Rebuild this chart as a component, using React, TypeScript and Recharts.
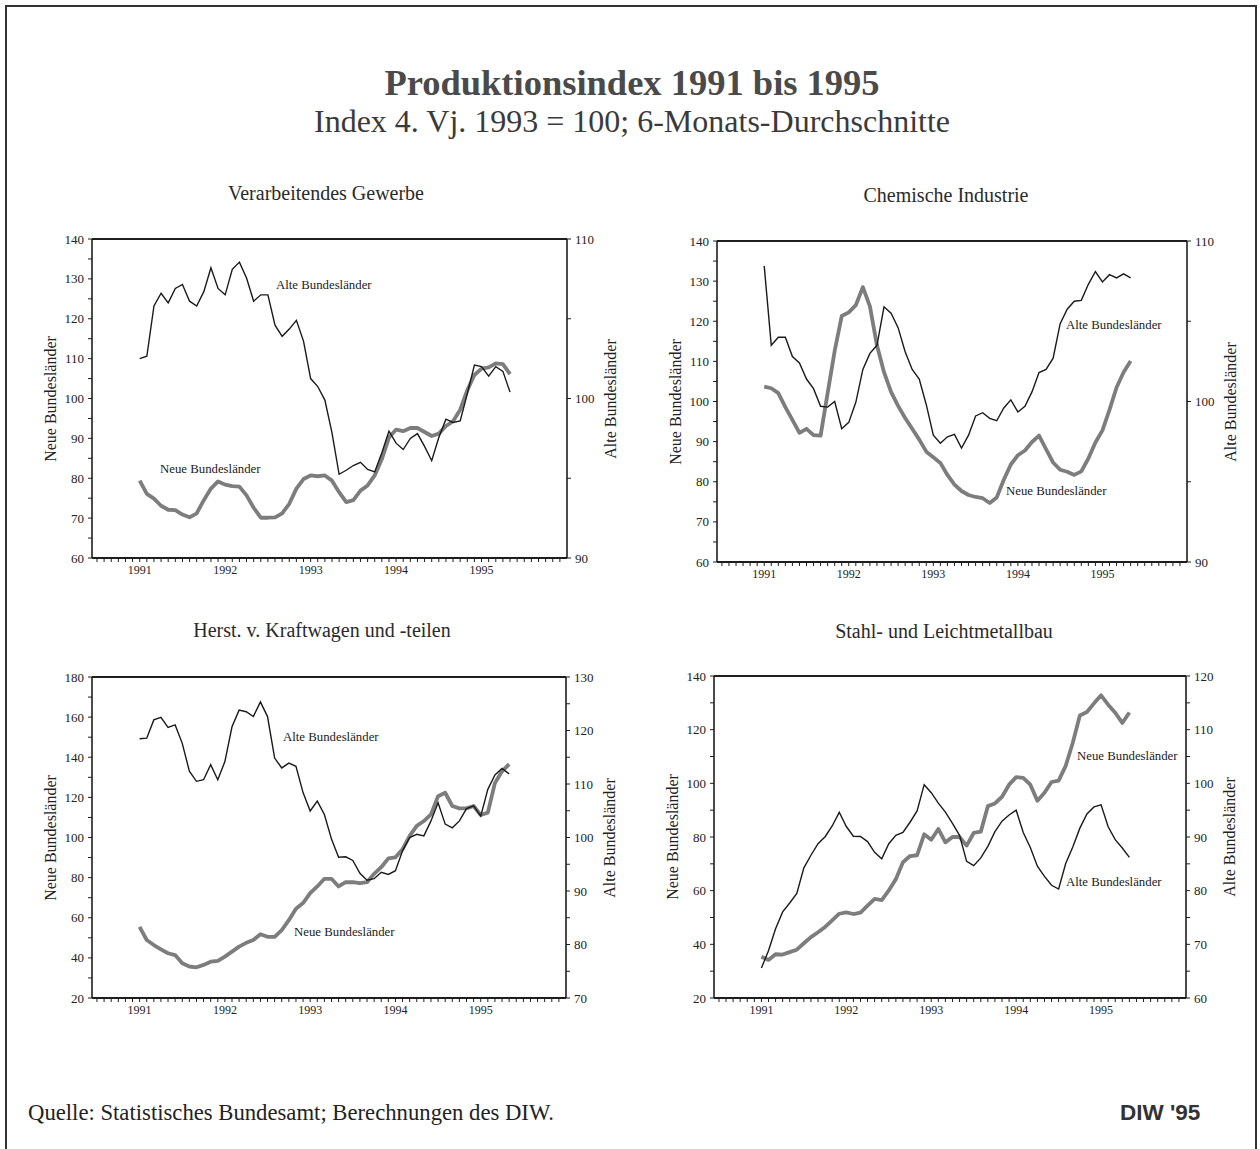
import React from 'react';
import { LineChart, Line, XAxis, YAxis, ReferenceLine } from 'recharts';

const SERIF = '"Liberation Serif", "Times New Roman", serif';
const AXIS = '#1e1e1e';

// x axis: months since Jan 1991, monthly ticks, year labels on January
const years = ['1991', '1992', '1993', '1994', '1995'];
const monthTicks = Array.from({ length: 66 }, (_, i) => i - 6);

// Verarbeitendes Gewerbe (Jan 1991 - May 1995)
const vgNeue = [
  79.4, 76.1, 74.9, 73.1, 72.1, 72.0, 70.9, 70.2, 71.2, 74.5, 77.4, 79.2, 78.4, 78.0, 77.9, 75.7, 72.6, 70.1,
  70.1, 70.2, 71.2, 73.6, 77.4, 79.8, 80.7, 80.5, 80.7, 79.4, 76.5, 74.0, 74.5, 76.9, 78.2, 80.7, 84.8, 90.2,
  92.2, 91.8, 92.6, 92.6, 91.6, 90.6, 91.2, 93.1, 94.3, 97.2, 102.1, 105.9, 107.5, 107.8, 108.8, 108.6, 106.1,
];
const vgAlte = [
  102.5, 102.65, 105.8, 106.6, 106.0, 106.9, 107.15, 106.1, 105.8, 106.7, 108.2, 106.9, 106.5, 108.1, 108.55,
  107.55, 106.1, 106.5, 106.5, 104.6, 103.9, 104.35, 104.9, 103.6, 101.25, 100.75, 99.9, 97.85, 95.25, 95.5,
  95.8, 96.0, 95.55, 95.4, 96.6, 97.95, 97.2, 96.8, 97.5, 97.8, 97.0, 96.1, 97.55, 98.7, 98.5, 98.6, 100.3,
  102.1, 102.0, 101.4, 102.0, 101.7, 100.4,
];

// Chemische Industrie
const chemNeue = [
  103.7, 103.3, 102.1, 98.6, 95.4, 92.2, 93.2, 91.6, 91.5, 102.1, 112.6, 121.3, 122.2, 124.0, 128.5, 123.7,
  114.0, 107.3, 102.4, 98.9, 95.9, 93.2, 90.5, 87.5, 86.1, 84.7, 81.7, 79.3, 77.7, 76.7, 76.2, 75.9, 74.7,
  76.1, 80.5, 84.3, 86.6, 87.8, 89.9, 91.5, 88.1, 84.8, 83.0, 82.5, 81.7, 82.6, 85.8, 89.8, 92.8, 97.9, 103.5,
  107.3, 110.1,
];
const chemAlte = [
  108.45, 103.5, 104.0, 104.0, 102.8, 102.4, 101.4, 100.8, 99.7, 99.65, 100.0, 98.3, 98.7, 99.95, 102.0, 103.0,
  103.5, 105.9, 105.5, 104.6, 103.1, 102.0, 101.4, 99.8, 97.9, 97.4, 97.8, 97.95, 97.1, 97.9, 99.1, 99.3, 98.95,
  98.8, 99.6, 100.1, 99.35, 99.7, 100.6, 101.8, 102.0, 102.7, 104.85, 105.75, 106.25, 106.3, 107.3, 108.1,
  107.45, 107.9, 107.7, 107.95, 107.7,
];

// Herst. v. Kraftwagen und -teilen
const kfzNeue = [
  55.5, 48.9, 46.4, 44.2, 42.3, 41.4, 37.3, 35.7, 35.3, 36.5, 38.1, 38.5, 40.6, 43.1, 45.6, 47.5, 48.9, 51.8,
  50.5, 50.5, 53.8, 58.8, 64.5, 67.3, 72.3, 75.6, 79.4, 79.4, 75.6, 77.7, 77.7, 77.2, 77.7, 81.9, 85.2, 89.6,
  90.1, 94.2, 100.8, 105.8, 108.2, 111.5, 120.6, 122.3, 115.7, 114.5, 114.5, 115.7, 111.2, 112.4, 127.2, 133.0,
  136.6,
];
const kfzAlte = [
  118.45, 118.56, 121.98, 122.46, 120.59, 121.04, 117.6, 112.4, 110.5, 110.8, 113.6, 110.8, 114.2, 120.7, 123.8,
  123.5, 122.6, 125.35, 122.6, 114.85, 113.0, 113.9, 113.3, 108.4, 104.95, 106.8, 104.3, 99.7, 96.3, 96.4, 95.7,
  93.3, 92.0, 92.3, 93.5, 93.1, 93.8, 97.5, 100.0, 100.6, 100.3, 103.1, 106.5, 102.5, 101.8, 103.1, 105.4,
  105.9, 104.0, 109.0, 111.7, 112.9, 111.9,
];

// Stahl- und Leichtmetallbau
const stahlNeue = [
  35.4, 34.2, 36.3, 36.2, 37.1, 38.0, 40.4, 42.7, 44.5, 46.5, 48.9, 51.4, 51.9, 51.3, 51.8, 54.4, 56.9, 56.5,
  60.1, 64.3, 70.6, 72.9, 73.2, 81.0, 79.0, 83.0, 78.0, 80.0, 80.0, 76.8, 81.5, 82.0, 91.5, 92.5, 95.0, 99.5,
  102.3, 102.0, 99.5, 93.5, 96.5, 100.5, 101.0, 106.5, 115.1, 125.3, 126.6, 129.8, 132.8, 129.3, 126.3, 122.5,
  126.4,
];
const stahlAlte = [
  65.6, 68.8, 72.9, 76.05, 77.7, 79.5, 84.25, 86.6, 88.75, 90.05, 92.05, 94.6, 91.95, 90.15, 90.1, 89.15, 87.15,
  85.95, 88.75, 90.3, 90.85, 92.75, 94.85, 99.75, 98.25, 96.3, 94.65, 92.55, 90.3, 85.45, 84.65, 86.1, 88.25,
  91.0, 92.95, 94.1, 95.0, 90.85, 88.05, 84.55, 82.65, 81.0, 80.3, 85.05, 88.15, 91.65, 94.3, 95.6, 96.0, 91.9,
  89.5, 87.95, 86.2,
];

const ticks60to140 = [60, 65, 70, 75, 80, 85, 90, 95, 100, 105, 110, 115, 120, 125, 130, 135, 140];
const ticks20to180 = [20, 30, 40, 50, 60, 70, 80, 90, 100, 110, 120, 130, 140, 150, 160, 170, 180];
const ticks20to140 = [20, 30, 40, 50, 60, 70, 80, 90, 100, 110, 120, 130, 140];
const ticks90to110 = [90, 95, 100, 105, 110];
const ticks70to130 = [70, 75, 80, 85, 90, 95, 100, 105, 110, 115, 120, 125, 130];
const ticks60to120 = [60, 65, 70, 75, 80, 85, 90, 95, 100, 105, 110, 115, 120];

type Lbl = { text: string; x: number; y: number };
type Spec = {
  title: string;
  titleX: number;
  titleY: number;
  neue: number[];
  alte: number[];
  leftDomain: [number, number];
  leftTicks: number[];
  leftStep: number;
  rightDomain: [number, number];
  rightTicks: number[];
  rightStep: number;
  box: { x1: number; x2: number; y1: number; y2: number };
  labels: Lbl[];
};

const panels: Spec[] = [
  {
    title: 'Verarbeitendes Gewerbe',
    titleX: 326,
    titleY: 193,
    neue: vgNeue,
    alte: vgAlte,
    leftDomain: [60, 140],
    leftTicks: ticks60to140,
    leftStep: 10,
    rightDomain: [90, 110],
    rightTicks: ticks90to110,
    rightStep: 10,
    box: { x1: 92, x2: 567, y1: 239, y2: 558 },
    labels: [
      { text: 'Alte Bundesländer', x: 276, y: 285 },
      { text: 'Neue Bundesländer', x: 160, y: 469 },
    ],
  },
  {
    title: 'Chemische Industrie',
    titleX: 946,
    titleY: 195,
    neue: chemNeue,
    alte: chemAlte,
    leftDomain: [60, 140],
    leftTicks: ticks60to140,
    leftStep: 10,
    rightDomain: [90, 110],
    rightTicks: ticks90to110,
    rightStep: 10,
    box: { x1: 717, x2: 1187, y1: 241, y2: 562 },
    labels: [
      { text: 'Alte Bundesländer', x: 1066, y: 325 },
      { text: 'Neue Bundesländer', x: 1006, y: 491 },
    ],
  },
  {
    title: 'Herst. v. Kraftwagen und -teilen',
    titleX: 322,
    titleY: 630,
    neue: kfzNeue,
    alte: kfzAlte,
    leftDomain: [20, 180],
    leftTicks: ticks20to180,
    leftStep: 20,
    rightDomain: [70, 130],
    rightTicks: ticks70to130,
    rightStep: 10,
    box: { x1: 92, x2: 566, y1: 677, y2: 998 },
    labels: [
      { text: 'Alte Bundesländer', x: 283, y: 737 },
      { text: 'Neue Bundesländer', x: 294, y: 932 },
    ],
  },
  {
    title: 'Stahl- und Leichtmetallbau',
    titleX: 944,
    titleY: 631,
    neue: stahlNeue,
    alte: stahlAlte,
    leftDomain: [20, 140],
    leftTicks: ticks20to140,
    leftStep: 20,
    rightDomain: [60, 120],
    rightTicks: ticks60to120,
    rightStep: 10,
    box: { x1: 714, x2: 1186, y1: 676, y2: 998 },
    labels: [
      { text: 'Neue Bundesländer', x: 1077, y: 756 },
      { text: 'Alte Bundesländer', x: 1066, y: 882 },
    ],
  },
];

const yearLabel = (m: number) => (m % 12 === 0 && m >= 0 && m / 12 < years.length ? years[m / 12] : '');

const tickFont = { fontSize: 13, fill: '#222', fontFamily: SERIF };

function Panel({ p }: { p: Spec }) {
  const { x1, x2, y1, y2 } = p.box;
  const leftW = 52;
  const rightW = 40;
  const xH = 30;
  const left0 = x1 - leftW;
  const top0 = y1 - 10;
  const W = x2 - left0 + rightW;
  const H = y2 - top0 + xH;
  const data = p.neue.map((v, i) => ({ m: i, neue: v, alte: p.alte[i] }));
  const cy = (y1 + y2) / 2;

  const vertical = (text: string, x: number) => (
    <div
      style={{
        position: 'absolute',
        left: x,
        top: cy,
        transform: 'translate(-50%, -50%) rotate(-90deg)',
        whiteSpace: 'nowrap',
        fontFamily: SERIF,
        fontSize: 16,
        color: '#222',
      }}
    >
      {text}
    </div>
  );

  return (
    <>
      <div
        style={{
          position: 'absolute',
          left: p.titleX,
          top: p.titleY,
          transform: 'translate(-50%, -50%)',
          whiteSpace: 'nowrap',
          fontFamily: SERIF,
          fontSize: 20,
          color: '#2a2a2a',
        }}
      >
        {p.title}
      </div>
      <div style={{ position: 'absolute', left: left0, top: top0 }}>
        <LineChart width={W} height={H} data={data} margin={{ top: 10, right: 0, bottom: 0, left: 0 }}>
          <XAxis
            dataKey="m"
            type="number"
            domain={[-6.7, 60]}
            ticks={monthTicks}
            interval={0}
            height={xH}
            tickSize={4}
            tickMargin={3}
            tickLine={{ stroke: AXIS }}
            axisLine={{ stroke: AXIS, strokeWidth: 1.8 }}
            tick={{ ...tickFont, fontSize: 12 }}
            tickFormatter={yearLabel}
          />
          <YAxis
            yAxisId="l"
            domain={p.leftDomain}
            ticks={p.leftTicks}
            interval={0}
            width={leftW}
            tickSize={4}
            tickMargin={4}
            tickLine={{ stroke: AXIS }}
            axisLine={{ stroke: AXIS, strokeWidth: 1.6 }}
            tick={tickFont}
            tickFormatter={(v: number) => (v % p.leftStep === 0 ? String(v) : '')}
          />
          <YAxis
            yAxisId="r"
            orientation="right"
            domain={p.rightDomain}
            ticks={p.rightTicks}
            interval={0}
            width={rightW}
            tickSize={4}
            tickMargin={4}
            tickLine={{ stroke: AXIS }}
            axisLine={{ stroke: AXIS, strokeWidth: 1.6 }}
            tick={tickFont}
            tickFormatter={(v: number) => (v % p.rightStep === 0 ? String(v) : '')}
          />
          <ReferenceLine yAxisId="l" y={p.leftDomain[1]} stroke={AXIS} strokeWidth={1.8} />
          <Line
            yAxisId="l"
            type="linear"
            dataKey="neue"
            stroke="#7d7d7d"
            strokeWidth={3.8}
            strokeLinejoin="round"
            dot={false}
            isAnimationActive={false}
          />
          <Line
            yAxisId="r"
            type="linear"
            dataKey="alte"
            stroke="#1a1a1a"
            strokeWidth={1.4}
            dot={false}
            isAnimationActive={false}
          />
        </LineChart>
      </div>
      {vertical('Neue Bundesländer', x1 - 41)}
      {vertical('Alte Bundesländer', x2 + 44)}
      {p.labels.map((l) => (
        <div
          key={l.text}
          style={{
            position: 'absolute',
            left: l.x,
            top: l.y,
            transform: 'translateY(-50%)',
            whiteSpace: 'nowrap',
            fontFamily: SERIF,
            fontSize: 12.8,
            color: '#222',
          }}
        >
          {l.text}
        </div>
      ))}
    </>
  );
}

export default function App() {
  return (
    <div
      style={{
        position: 'absolute',
        left: 0,
        top: 0,
        width: 1260,
        height: 1149,
        overflow: 'hidden',
        background: '#fff',
      }}
    >
      <div
        style={{
          position: 'absolute',
          left: 5,
          top: 5,
          width: 1248,
          height: 1200,
          borderLeft: '2px solid #333',
          borderTop: '2px solid #333',
          borderRight: '2px solid #333',
        }}
      />
      <div
        style={{
          position: 'absolute',
          left: 632,
          top: 82,
          transform: 'translate(-50%, -50%)',
          whiteSpace: 'nowrap',
          fontFamily: SERIF,
          fontWeight: 'bold',
          fontSize: 36.5,
          color: '#4a4a4a',
        }}
      >
        Produktionsindex 1991 bis 1995
      </div>
      <div
        style={{
          position: 'absolute',
          left: 632,
          top: 121,
          transform: 'translate(-50%, -50%)',
          whiteSpace: 'nowrap',
          fontFamily: SERIF,
          fontSize: 32,
          color: '#3a3a3a',
        }}
      >
        Index 4. Vj. 1993 = 100; 6-Monats-Durchschnitte
      </div>
      {panels.map((p) => (
        <Panel key={p.title} p={p} />
      ))}
      <div
        style={{
          position: 'absolute',
          left: 28,
          top: 1113,
          transform: 'translateY(-50%)',
          whiteSpace: 'nowrap',
          fontFamily: SERIF,
          fontSize: 22.7,
          color: '#222',
        }}
      >
        Quelle: Statistisches Bundesamt; Berechnungen des DIW.
      </div>
      <div
        style={{
          position: 'absolute',
          left: 1120,
          top: 1113,
          transform: 'translateY(-50%)',
          whiteSpace: 'nowrap',
          fontFamily: '"Liberation Sans", Arial, sans-serif',
          fontWeight: 'bold',
          fontSize: 22.5,
          color: '#333',
        }}
      >
        DIW '95
      </div>
    </div>
  );
}
